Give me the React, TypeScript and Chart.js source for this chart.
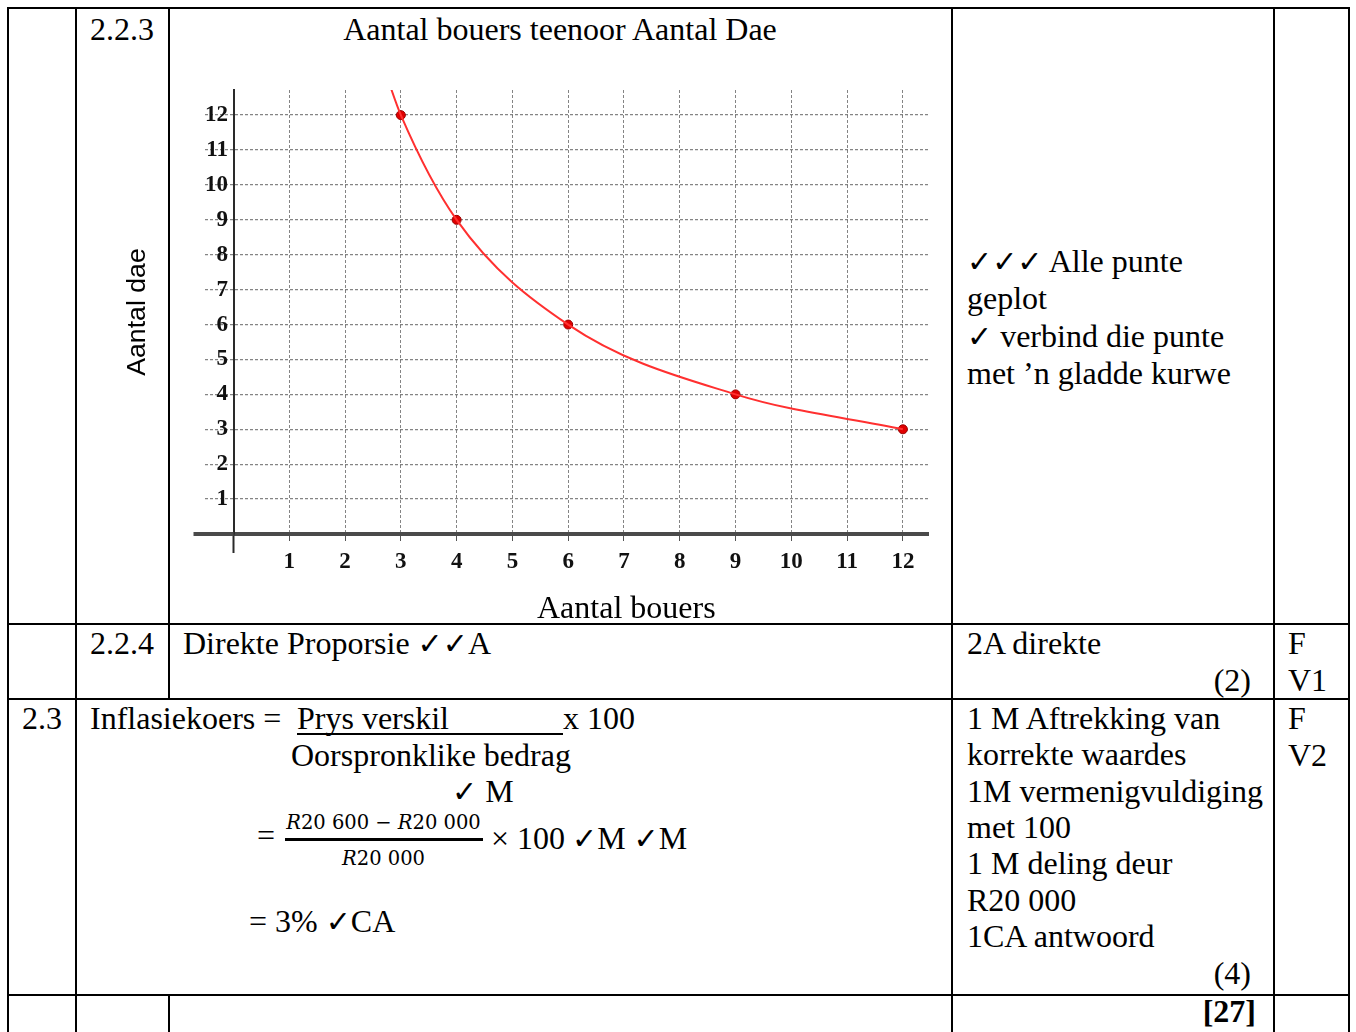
import React, { useEffect, useRef } from "react";
import { Chart, registerables } from "chart.js";

Chart.register(...registerables);

// ---- chart data ----
const builders = [3, 4, 6, 9, 12];
const days = [12, 9, 6, 4, 3];
// the smooth curve through the plotted points; it leaves the top of the grid near x = 2.75
const curveBuilders = [2.75, 3, 4, 6, 9, 12];
const curveDays = [13.1, 12, 9, 6, 4, 3];
const xTickValues = [1, 2, 3, 4, 5, 6, 7, 8, 9, 10, 11, 12];
const xTickLabels = ["1", "2", "3", "4", "5", "6", "7", "8", "9", "10", "11", "12"];
const yTickValues = [1, 2, 3, 4, 5, 6, 7, 8, 9, 10, 11, 12];
const yTickLabels = ["1", "2", "3", "4", "5", "6", "7", "8", "9", "10", "11", "12"];
const chartTitle = "Aantal bouers teenoor Aantal Dae";
const xTitle = "Aantal bouers";
const yTitle = "Aantal dae";

const SERIF = "'Liberation Serif', 'Times New Roman', serif";
const SANS = "'Liberation Sans', Arial, sans-serif";
const CHECK = "'DejaVu Sans', sans-serif";

const axisExtensions = {
  id: "axisExtensions",
  afterDraw(chart: any) {
    const { ctx, scales } = chart;
    const x0 = scales.x.getPixelForValue(0);
    const y0 = scales.y.getPixelForValue(0);
    ctx.save();
    ctx.strokeStyle = "#2a2a2a";
    ctx.lineWidth = 2;
    ctx.beginPath();
    ctx.moveTo(x0, y0);
    ctx.lineTo(x0, y0 + 19);
    ctx.stroke();
    ctx.strokeStyle = "#4a4a4a";
    ctx.lineWidth = 4;
    ctx.beginPath();
    ctx.moveTo(x0 - 40, y0);
    ctx.lineTo(x0, y0);
    ctx.stroke();
    ctx.restore();
  },
};

function ChartBox() {
  const ref = useRef<HTMLCanvasElement | null>(null);
  useEffect(() => {
    if (!ref.current) return;
    const gridColor = "rgba(50,50,50,0.6)";
    const tickFont = { family: SERIF, size: 23, weight: "bold" as const };
    const chart = new Chart(ref.current, {
      type: "scatter",
      data: {
        datasets: [
          {
            label: "kurwe",
            data: curveBuilders.map((x, i) => ({ x, y: curveDays[i] })),
            showLine: true,
            borderColor: "#ff3030",
            borderWidth: 2,
            pointRadius: 0,
            cubicInterpolationMode: "monotone",
            fill: false,
          } as any,
          {
            label: "punte",
            data: builders.map((x, i) => ({ x, y: days[i] })),
            pointRadius: 4.5,
            pointBackgroundColor: "#e00000",
            pointBorderColor: "#9a0000",
            pointBorderWidth: 1,
          } as any,
        ],
      },
      options: {
        animation: false,
        responsive: true,
        maintainAspectRatio: false,
        layout: { padding: { left: 0, top: 40, right: 23, bottom: 0 } },
        plugins: { legend: { display: false }, tooltip: { enabled: false } },
        scales: {
          x: {
            type: "linear",
            min: 0,
            max: 12.45,
            afterBuildTicks: (s: any) => {
              s.ticks = xTickValues.map((v) => ({ value: v }));
            },
            afterFit: (s: any) => {
              s.height = 88;
            },
            ticks: {
              callback: (v: any) => xTickLabels[xTickValues.indexOf(Number(v))] ?? "",
              font: tickFont,
              color: "#111",
              padding: 7,
              maxRotation: 0,
              autoSkip: false,
            },
            grid: {
              color: gridColor,
              lineWidth: 1,
              tickLength: 7,
              tickColor: "#555",
            },
            border: { display: true, color: "#4a4a4a", width: 4, dash: [3, 2] },
          },
          y: {
            type: "linear",
            min: 0,
            max: 12.72,
            afterBuildTicks: (s: any) => {
              s.ticks = yTickValues.map((v) => ({ value: v }));
            },
            afterFit: (s: any) => {
              s.width = 133.5;
            },
            ticks: {
              callback: (v: any) => yTickLabels[yTickValues.indexOf(Number(v))] ?? "",
              font: tickFont,
              color: "#111",
              padding: -23,
              autoSkip: false,
            },
            grid: {
              color: gridColor,
              lineWidth: 1.3,
              tickLength: 28.5,
              tickColor: gridColor,
              tickBorderDash: [3, 2],
            },
            border: { display: true, color: "#2a2a2a", width: 2, dash: [3, 2] },
            title: {
              display: true,
              text: yTitle,
              font: { family: SANS, size: 26.67 },
              color: "#000",
              padding: { top: 22, bottom: 0 },
            },
          },
        },
      } as any,
      plugins: [axisExtensions],
    });
    return () => chart.destroy();
  }, []);
  return (
    <div style={{ position: "absolute", left: 100, top: 50, width: 851, height: 572 }}>
      <canvas ref={ref} />
    </div>
  );
}

function T({ x, base, children, style }: { x?: number; base: number; children: any; style?: any }) {
  return (
    <div
      style={{
        position: "absolute",
        left: x,
        top: base - 29.3,
        fontFamily: SERIF,
        fontSize: 32,
        lineHeight: "37px",
        whiteSpace: "pre",
        color: "#000",
        ...style,
      }}
    >
      {children}
    </div>
  );
}

function Ck({ n = 1 }: { n?: number }) {
  return <span style={{ fontFamily: CHECK, fontSize: 30 }}>{"✓".repeat(n)}</span>;
}

function HLine({ y, x1, x2 }: { y: number; x1: number; x2: number }) {
  return <div style={{ position: "absolute", left: x1 - 1, top: y - 1, width: x2 - x1 + 2, height: 2, background: "#000" }} />;
}
function VLine({ x, y1, y2 }: { x: number; y1: number; y2: number }) {
  return <div style={{ position: "absolute", left: x - 1, top: y1 - 1, width: 2, height: y2 - y1 + 2, background: "#000" }} />;
}

export default function App() {
  const rightLines3 = [
    "1 M Aftrekking van",
    "korrekte waardes",
    "1M vermenigvuldiging",
    "met 100",
    "1 M deling deur",
    "R20 000",
    "1CA antwoord",
  ];
  const fracStyle = {
    position: "absolute" as const,
    left: 275,
    width: 217,
    textAlign: "center" as const,
    fontFamily: "'DejaVu Serif', serif",
    fontSize: 19.5,
    lineHeight: "24px",
    whiteSpace: "pre" as const,
  };
  return (
    <div style={{ position: "absolute", left: 0, top: 0, width: 1356, height: 1032, overflow: "hidden", background: "#fff" }}>
      {/* table borders */}
      <HLine y={7.5} x1={7.5} x2={1349} />
      <HLine y={624} x1={7.5} x2={1349} />
      <HLine y={699} x1={7.5} x2={1349} />
      <HLine y={994.5} x1={7.5} x2={1349} />
      <VLine x={7.5} y1={7.5} y2={1040} />
      <VLine x={76} y1={7.5} y2={1040} />
      <VLine x={168.5} y1={7.5} y2={699} />
      <VLine x={168.5} y1={994.5} y2={1040} />
      <VLine x={951.5} y1={7.5} y2={1040} />
      <VLine x={1273.5} y1={7.5} y2={1040} />
      <VLine x={1349} y1={7.5} y2={1040} />

      {/* row 2.2.3 */}
      <T x={90} base={40}>2.2.3</T>
      <T x={169} base={40} style={{ width: 782, textAlign: "center" }}>{chartTitle}</T>
      <ChartBox />
      <T x={537} base={618}>{xTitle}</T>
      <T x={967} base={272}><Ck n={3} /> Alle punte</T>
      <T x={967} base={309.5}>geplot</T>
      <T x={967} base={347}><Ck /> verbind die punte</T>
      <T x={967} base={384.5}>met ’n gladde kurwe</T>

      {/* row 2.2.4 */}
      <T x={90} base={654}>2.2.4</T>
      <T x={183} base={654}>Direkte Proporsie <Ck n={2} />A</T>
      <T x={967} base={654}>2A direkte</T>
      <T base={691} style={{ right: 105, textAlign: "right" }}>(2)</T>
      <T x={1288} base={654}>F</T>
      <T x={1288} base={691}>V1</T>

      {/* row 2.3 */}
      <T x={22} base={729}>2.3</T>
      <T x={90} base={729}>Inflasiekoers =</T>
      <T x={297} base={729}>Prys verskil</T>
      <div style={{ position: "absolute", left: 297, top: 733, width: 266, height: 2, background: "#000" }} />
      <T x={563} base={729}>x 100</T>
      <T x={291} base={766}>Oorspronklike bedrag</T>
      <T x={452} base={802}><Ck /> M</T>
      <T x={257} base={846}>=</T>
      <div style={{ ...fracStyle, top: 830 - 18.6 }}>
        <i>R</i>20 600 − <i>R</i>20 000
      </div>
      <div style={{ position: "absolute", left: 285, top: 838, width: 198, height: 2.5, background: "#000" }} />
      <div style={{ ...fracStyle, top: 866 - 18.6 }}>
        <i>R</i>20 000
      </div>
      <T x={491} base={849}>× 100</T>
      <T x={572} base={849}><Ck />M <Ck />M</T>
      <T x={249} base={932}>= 3% <Ck />CA</T>

      {rightLines3.map((s, i) => (
        <T key={i} x={967} base={729 + i * 36.4}>{s}</T>
      ))}
      <T base={984} style={{ right: 105, textAlign: "right" }}>(4)</T>
      <T x={1288} base={729}>F</T>
      <T x={1288} base={766}>V2</T>

      {/* total row */}
      <T base={1022} style={{ right: 100, textAlign: "right", fontWeight: "bold" }}>[27]</T>
    </div>
  );
}
